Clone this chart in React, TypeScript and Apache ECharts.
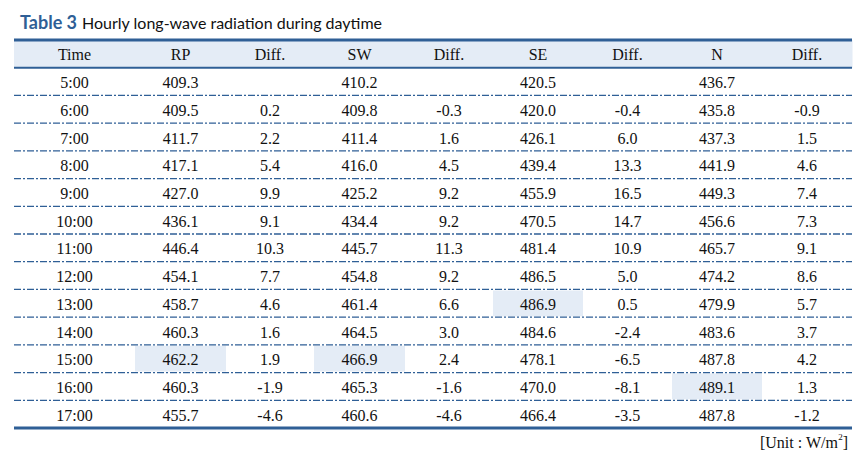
import React, { useEffect, useRef } from "react";
import * as echarts from "echarts";

const headers = ["Time", "RP", "Diff.", "SW", "Diff.", "SE", "Diff.", "N", "Diff."];
const times = ["5:00", "6:00", "7:00", "8:00", "9:00", "10:00", "11:00", "12:00", "13:00", "14:00", "15:00", "16:00", "17:00"];
const rp = [409.3, 409.5, 411.7, 417.1, 427.0, 436.1, 446.4, 454.1, 458.7, 460.3, 462.2, 460.3, 455.7];
const rpDiff = [null, 0.2, 2.2, 5.4, 9.9, 9.1, 10.3, 7.7, 4.6, 1.6, 1.9, -1.9, -4.6];
const sw = [410.2, 409.8, 411.4, 416.0, 425.2, 434.4, 445.7, 454.8, 461.4, 464.5, 466.9, 465.3, 460.6];
const swDiff = [null, -0.3, 1.6, 4.5, 9.2, 9.2, 11.3, 9.2, 6.6, 3.0, 2.4, -1.6, -4.6];
const se = [420.5, 420.0, 426.1, 439.4, 455.9, 470.5, 481.4, 486.5, 486.9, 484.6, 478.1, 470.0, 466.4];
const seDiff = [null, -0.4, 6.0, 13.3, 16.5, 14.7, 10.9, 5.0, 0.5, -2.4, -6.5, -8.1, -3.5];
const nVals = [436.7, 435.8, 437.3, 441.9, 449.3, 456.6, 465.7, 474.2, 479.9, 483.6, 487.8, 489.1, 487.8];
const nDiff = [null, -0.9, 1.5, 4.6, 7.4, 7.3, 9.1, 8.6, 5.7, 3.7, 4.2, 1.3, -1.2];

const BLUE = "#2f5f96";
const HEAD_BG = "#e4ecf6";
const HL_BG = "#e4ecf6";
const SERIF = "'Liberation Serif', 'Times New Roman', serif";

// column edges (axis units)
const colEdges = [0, 121, 212, 300, 391, 479, 569, 658, 748, 838];

type Cell = { col: number; row: number; text: string; hl: boolean; head: boolean };

function buildCells(): Cell[] {
  const cells: Cell[] = [];
  headers.forEach((h, c) => cells.push({ col: c, row: 0, text: h, hl: false, head: true }));
  const valueCols: (number | null)[][] = [rp, rpDiff, sw, swDiff, se, seDiff, nVals, nDiff];
  const isMain = [true, false, true, false, true, false, true, false];
  times.forEach((t, r) => {
    cells.push({ col: 0, row: r + 1, text: t, hl: false, head: false });
    valueCols.forEach((arr, k) => {
      const v = arr[r];
      let hl = false;
      if (isMain[k]) {
        const max = Math.max(...(arr as number[]));
        hl = v === max;
      }
      cells.push({ col: k + 1, row: r + 1, text: v == null ? "" : v.toFixed(1), hl, head: false });
    });
  });
  return cells;
}

export default function App() {
  const ref = useRef<HTMLDivElement>(null);
  useEffect(() => {
    if (!ref.current) return;
    const chart = echarts.init(ref.current, undefined, { renderer: "svg" });
    const cells = buildCells();
    const nRows = times.length + 1;
    const ruleRows: number[] = [];
    for (let i = 0; i <= nRows; i++) ruleRows.push(i);

    chart.setOption({
      animation: false,
      backgroundColor: "#ffffff",
      grid: { left: 14, right: 13, top: 40, bottom: 43 },
      xAxis: { type: "value", min: 0, max: 838, show: false },
      yAxis: { type: "value", min: 0, max: nRows, inverse: true, show: false },
      title: {
        left: 15,
        top: 8,
        text: "{a|Table 3} {b|Hourly long-wave radiation during daytime}",
        textStyle: {
          rich: {
            a: { fontFamily: "Lato, 'Noto Sans', sans-serif", fontWeight: "bold", fontSize: 18, color: BLUE },
            b: { fontFamily: "Lato, 'Noto Sans', sans-serif", fontWeight: "normal", fontSize: 16, color: "#111" },
          },
        },
      },
      graphic: [
        {
          type: "text",
          right: 17,
          top: 432,
          style: {
            text: "{t|[Unit : W/m}{s|2}{t|]}",
            rich: {
              t: { font: `16px ${SERIF}`, fill: "#111", verticalAlign: "bottom", lineHeight: 18 },
              s: { font: `9px ${SERIF}`, fill: "#111", verticalAlign: "top", lineHeight: 18, padding: [0, 0, 8, 0] },
            },
          },
        },
      ],
      series: [
        {
          type: "custom",
          name: "cells",
          clip: false,
          z: 2,
          data: cells.map((c) => [c.col, c.row]),
          renderItem: (params: any, api: any) => {
            const c = cells[params.dataIndex];
            const p0 = api.coord([colEdges[c.col], c.row]);
            const p1 = api.coord([colEdges[c.col + 1], c.row + 1]);
            const children: any[] = [];
            if (c.head) {
              children.push({
                type: "rect",
                shape: { x: p0[0], y: p0[1], width: p1[0] - p0[0] + 0.5, height: p1[1] - p0[1] },
                style: { fill: HEAD_BG },
                silent: true,
              });
            }
            if (c.hl) {
              children.push({
                type: "rect",
                shape: { x: p0[0], y: p0[1] + 1, width: p1[0] - p0[0], height: p1[1] - p0[1] - 2 },
                style: { fill: HL_BG },
                silent: true,
              });
            }
            children.push({
              type: "text",
              x: (p0[0] + p1[0]) / 2,
              y: (p0[1] + p1[1]) / 2 + 1,
              style: {
                text: c.text,
                font: `16px ${SERIF}`,
                fill: "#111",
                align: "center",
                verticalAlign: "middle",
              },
            });
            return { type: "group", children };
          },
        },
        {
          type: "custom",
          name: "rules",
          clip: false,
          z: 3,
          data: ruleRows.map((r) => [0, r]),
          renderItem: (params: any, api: any) => {
            const r = ruleRows[params.dataIndex];
            const a = api.coord([colEdges[0], r]);
            const b = api.coord([colEdges[colEdges.length - 1], r]);
            const thick = r === 0 || r === nRows;
            const solid = thick || r === 1;
            return {
              type: "line",
              shape: { x1: a[0], y1: a[1], x2: b[0], y2: b[1] },
              style: {
                stroke: BLUE,
                lineWidth: thick ? 3 : solid ? 2 : 1.3,
                lineDash: solid ? null : [7, 2, 2, 2],
              },
            };
          },
        },
      ],
    });
    return () => chart.dispose();
  }, []);
  return <div ref={ref} style={{ position: "absolute", left: 0, top: 0, width: 865, height: 471 }} />;
}
